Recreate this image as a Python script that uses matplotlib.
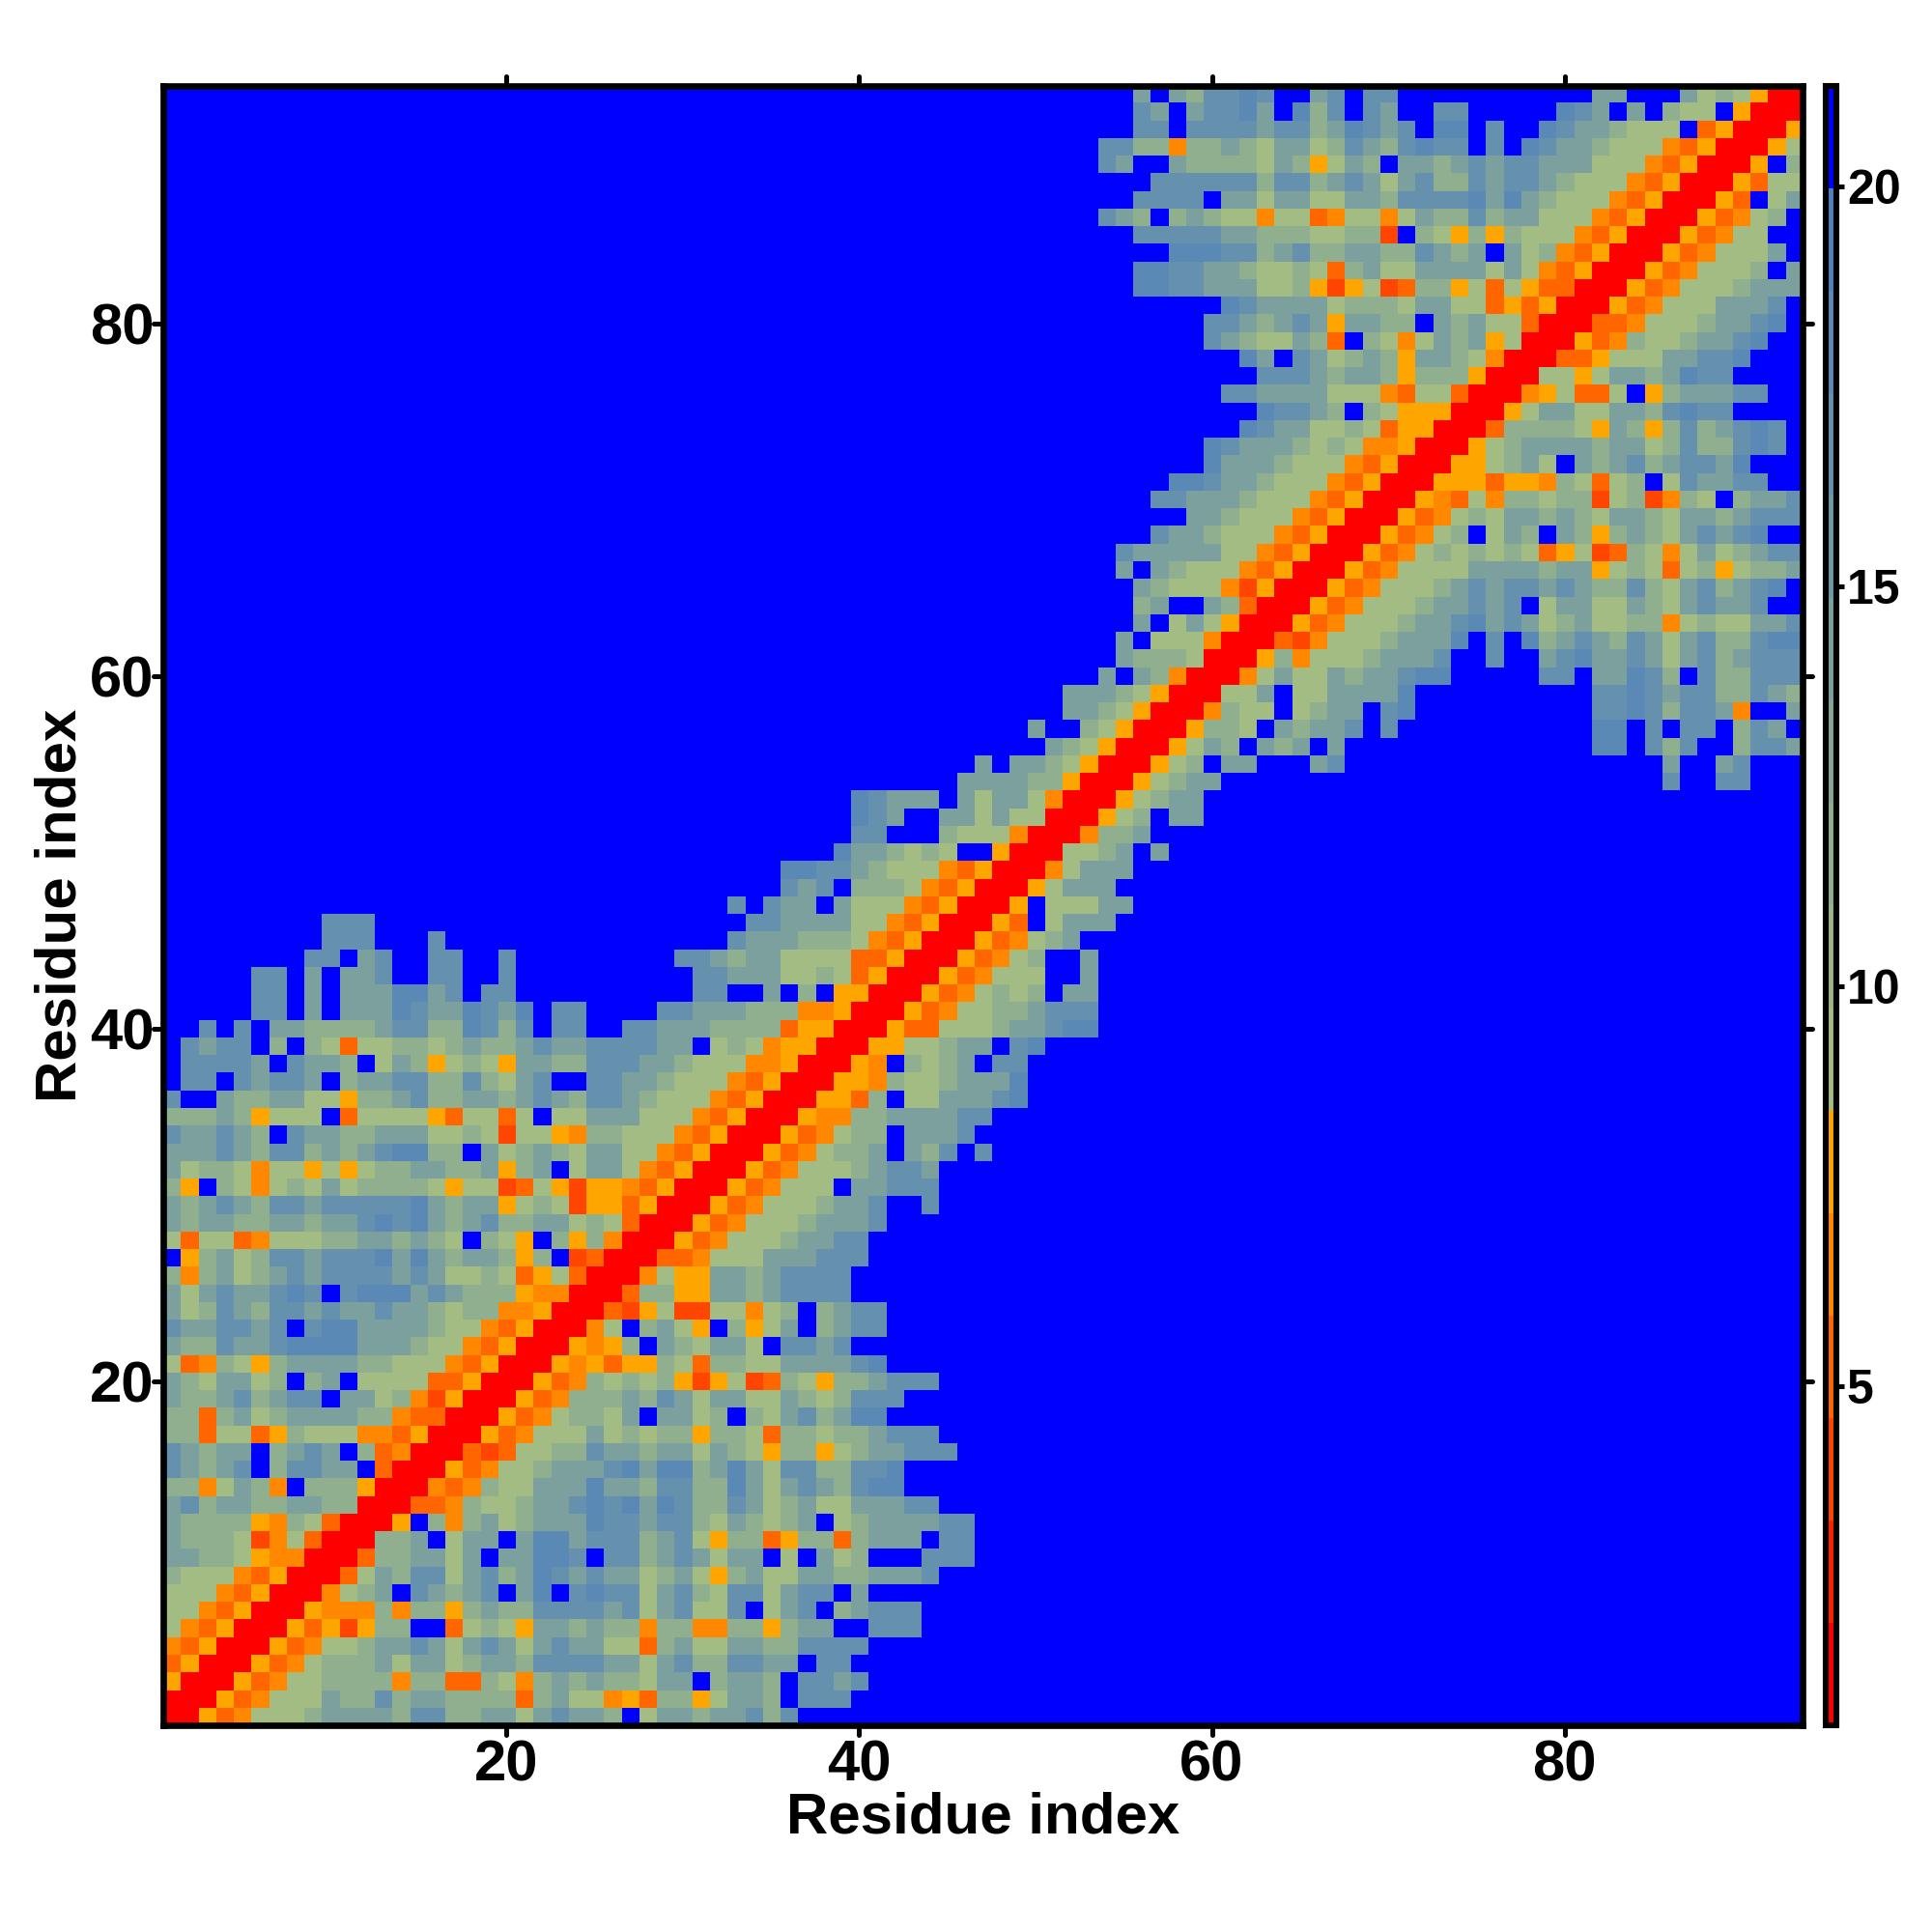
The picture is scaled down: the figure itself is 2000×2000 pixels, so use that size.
"""
Residue distance map, lower triangle typed row by row and mirrored
"""
import matplotlib
matplotlib.use('Agg')
import matplotlib.pyplot as plt
from matplotlib.colors import ListedColormap, BoundaryNorm
from matplotlib.markers import MarkerStyle, TICKLEFT, TICKRIGHT, TICKUP, TICKDOWN
import numpy as np

plt.rcParams['font.family'] = ['Liberation Sans', 'DejaVu Sans']
plt.rcParams['font.weight'] = 'bold'

# one hex digit per cell = colour bin (0 red ... F blue), row r runs up to column r,
# columns left of the string are the blue bin
rows = [
    "0", "00", "500", "3500", "43500", "643500", "6643500", "66643500", "866643500",
    "AA88654400",
    "A8886246300",
    "A88885486300",
    "AC8AA88AA8800",
    "8846A84F888500",
    "CA8ACF8CCAAF300",
    "CA8AAF8ACAF83400",
    "88366358666443500",
    "8838A68AAAA8843300",
    "A88AC8ACCFAA6842500",
    "A86AA68F8AF666633500",
    "6348658AAAA8866643500",
    "A88CAACDDDDAAA86643500",
    "CAACCACFCDDAAAA86643500",
    "A68CA8CCACAACAA868844500",
    "A6ACAACDCFCDDDACA88854400",
    "848A68ACACCCCACA6686356300",
    "F58A68CCACCCDADA8AA858F2300",
    "63663466688AA8A86F865F858400",
    "A8AA88AA8AACDCDA8AC88AA686300",
    "A8ACA8CCACCCCCDA8AA56862553500",
    "85F864686A68888656623652554350" "0",
    "A6886466565688AA88A58AF6AA6435" "00",
    "AAACA8CC8A8ACDD88FA68A86AA6643" "500",
    "CAACA8FCAA88AAA668626654886664" "3500",
    "888A85666F36666536636F66AAA666" "43500",
    "CFFA88AA66588AC88AA8ACA8CCA866" "643500",
    "FCCFCACCAF8AACC88C86ACFFCCAA86" "6643500",
    "FCCCCAFCAA8F6A856865AA88CCCAA8" "66644500",
    "FCACCF8F863668868A88ACAACCCCAA" "F68645500",
    "FFCFCFAA8888ACC88DC8CFCCFFCCAA" "A888835500",
    "FFFFFCCFAFAAADCAADCADFCCFFFFCC" "AAA88844500",
    "FFFFFCCFAFAAADDACFCCFFFFFFFFFF" "CCFFAF8F5500",
    "FFFFFCCFAFAACFFCCFFCFFFFFFFFFF" "CCAAA66863500",
    "FFFFFFFFCCFACFFCCFFCFFFFFFFFFC" "CA8AA666633500",
    "FFFFFFFFFCCCFFFCFFFFFFFFFFFFFF" "FFCAAA888643500",
    "FFFFFFFFFCCCFFFFFFFFFFFFFFFFFF" "FFFCCAAAA6643500",
    "CFCAAFA66643500",
    "CACF888643500",
    "DDCCA866643500",
    "DAA8686FF500",
    "CCFFF8666400",
    "DCAFFAA6A6600",
    "DCAAAFA6AA6400",
    "AAAA88500",
    "AFAA86500",
    "A86500",
    "AFF86500",
    "AA86500",
    "AAA86500",
    "AFA8400",
    "A888600",
    "AF666400",
    "AF6A6500",
    "8AFFA8300",
    "A866642500",
    "AFA866643500",
    "CAAAAA6643500",
    "CAA866643500",
    "AA866643500",
    "CCAAA866643500",
    "DDCAA866643500",
    "DAAA866643500",
    "DCAAA868644500",
    "DCAA668635500",
    "DCCA8F8655500",
    "CCAAAA6664366300",
    "CCCA8AA85888500",
    "DAFCA68A85AA86400",
    "CA866A83F8646A8A5600",
    "CCA8ACA5AA88FA8A66300",
    "DCAAAA68886AA66353500",
    "DDCCAAA66852562388563653300",
    "DDCCAA8668638A66AAAA6A643500",
    "DDDCC8AC88AA88CA8AFA6843500",
    "CCCCCAA88866882F86585866643500",
    "CA8F8A866466346646A88C8AA66643" "500",
    "CCCCFAA6AA66AA8CCCCDADA8666435" "00",
    "CCCCCC8CC8ACA6AC88CACCA866643" "500",
    "CAFFA88886A856A8FAA8ACACCAAA66" "643500",
    "CC88488A86AA68CA8CDCCFCFDCAA86" "6643500",
    "CCFCCCCACC8ADCACFDDFCFFDCAA866" "6F3500",
    "CAFACCDAFD8CFCAFFCCFFFFFDCAFAF" "866F500",
    "AFA8CCDCFFACFCCFFFFFFFFFFFAAFF" "FA686500",
]

bin_colors = ['#FF0000', '#FF2000', '#FF4500', '#FF6600', '#FF8800', '#FFA500',
              '#A3BC84', '#9AB689', '#90AF8F', '#85A797', '#7BA09E', '#7098A6',
              '#6590AE', '#5A89B5', '#4F81BD', '#0000FF']
vmin, vmax = 0.76, 21.26
tick_vals = [20, 40, 60, 80]
cbar_ticks = [5, 10, 15, 20]

n = len(rows)
edges = np.linspace(vmin, vmax, len(bin_colors) + 1)
centers = (edges[:-1] + edges[1:]) / 2
dist = np.zeros((n, n))
for r, row in enumerate(rows):
    full = row.rjust(r + 1, 'F')
    if len(full) != r + 1:
        print("row length problem", r + 1, len(full))
    for c, ch in enumerate(full[:r + 1]):
        dist[r, c] = dist[c, r] = centers[int(ch, 16)]

cmap = ListedColormap(bin_colors)
norm = BoundaryNorm(edges, cmap.N)

W = 2000.0
left, right, top, bottom = 168.5, 1866.0, 88.5, 1786.0

fig = plt.figure(figsize=(10, 10), dpi=200)
ax = fig.add_axes([left / W, 1 - bottom / W, (right - left) / W, (bottom - top) / W])
im = ax.imshow(dist, origin='lower', cmap=cmap, norm=norm, interpolation='nearest',
               extent=(0.5, n + 0.5, 0.5, n + 0.5), aspect='auto')
ax.set_xticks(tick_vals)
ax.set_yticks(tick_vals)
ax.tick_params(axis='both', which='major', top=True, right=True, length=3.6, width=1.8,
               labelsize=21.5)
ax.tick_params(axis='x', pad=1.5)
ax.tick_params(axis='y', pad=-0.3)
for lab in ax.get_xticklabels() + ax.get_yticklabels():
    lab.set_fontweight('bold')
for s in ax.spines.values():
    s.set_linewidth(2.4)


def round_ticks(axis, low, high):
    # ticks with round ends like the original
    for t in axis.get_major_ticks():
        t.tick1line.set_marker(MarkerStyle(low, capstyle='round'))
        t.tick2line.set_marker(MarkerStyle(high, capstyle='round'))


round_ticks(ax.xaxis, TICKDOWN, TICKUP)
round_ticks(ax.yaxis, TICKLEFT, TICKRIGHT)

fig.text((left + right) / 2 / W, 1 - 1898 / W, 'Residue index', ha='center', va='baseline',
         fontsize=21.6, fontweight='bold')
fig.text(79 / W, 1 - 937 / W, 'Residue index', rotation=90, ha='center',
         va='baseline', rotation_mode='anchor', fontsize=21.6, fontweight='bold')

cax = fig.add_axes([1889.5 / W, 1 - bottom / W, 11.5 / W, (bottom - top) / W])
cb = fig.colorbar(im, cax=cax, ticks=cbar_ticks, spacing='proportional', drawedges=False)
cb.minorticks_off()
cb.outline.set_linewidth(2.2)
cax.tick_params(axis='y', right=True, length=2.9, width=1.8, labelsize=18, pad=1)
for lab in cax.get_yticklabels():
    lab.set_fontweight('bold')

plt.savefig('out.png', dpi=200)
